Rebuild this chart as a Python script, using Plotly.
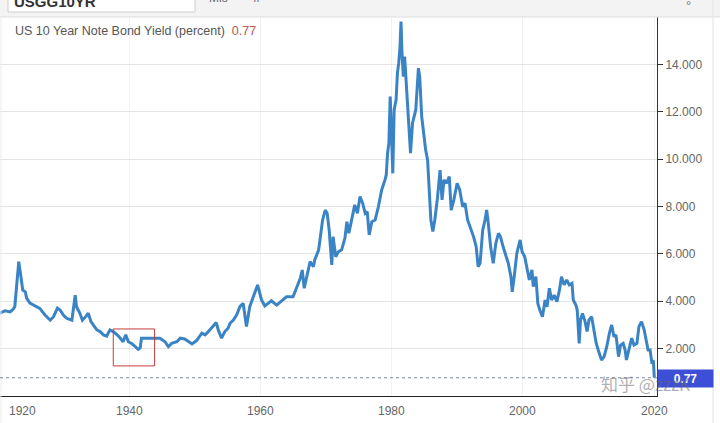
import plotly.graph_objects as go

# ---- data ----
years = [
    1920.35, 1921.1, 1921.9, 1922.3, 1922.6, 1922.9, 1923.2, 1923.5, 1923.8, 1924.2,
    1924.4, 1924.9, 1925.4, 1926.4, 1927.2, 1928.0, 1928.5, 1929.1, 1929.5, 1930.0,
    1930.5, 1931.3, 1931.8, 1932.0, 1932.5, 1932.9, 1933.4, 1933.8, 1934.2, 1934.6,
    1935.1, 1935.6, 1936.1, 1936.6, 1937.1, 1937.6, 1938.4, 1939.1, 1939.5, 1939.9,
    1940.4, 1940.9, 1941.4, 1941.7, 1941.9, 1942.7, 1944.0, 1944.7, 1945.5, 1946.0,
    1946.5, 1947.3, 1947.8, 1948.5, 1949.6, 1950.3, 1951.1, 1951.6, 1952.1, 1952.6,
    1953.3, 1953.6, 1954.1, 1954.6, 1955.1, 1955.4, 1955.9, 1956.4, 1956.9, 1957.4,
    1957.9, 1958.4, 1959.1, 1959.6, 1960.2, 1960.7, 1961.2, 1961.7, 1962.5, 1963.3,
    1964.0, 1965.0, 1965.6, 1966.1, 1966.4, 1966.7, 1967.2, 1967.6, 1968.1, 1968.3,
    1968.9, 1969.1, 1969.5, 1969.9, 1970.2, 1970.5, 1970.9, 1971.1, 1971.5, 1971.9,
    1972.4, 1972.9, 1973.2, 1973.5, 1973.9, 1974.4, 1974.8, 1975.2, 1975.6, 1976.0,
    1976.3, 1976.6, 1977.0, 1977.5, 1978.0, 1978.5, 1979.0, 1979.2, 1979.4, 1979.6,
    1979.8, 1980.0, 1980.2, 1980.4, 1980.7, 1980.9, 1981.1, 1981.3, 1981.45, 1981.6,
    1981.8, 1982.0, 1982.2, 1982.4, 1982.7, 1982.9, 1983.2, 1983.5, 1983.7, 1984.1,
    1984.3, 1984.6, 1984.8, 1985.2, 1985.5, 1985.8, 1986.0, 1986.3, 1986.6, 1987.0,
    1987.4, 1987.7, 1988.0, 1988.4, 1988.8, 1989.1, 1989.5, 1990.0, 1990.4, 1990.85,
    1991.2, 1991.6, 1992.0, 1992.5, 1992.9, 1993.2, 1993.5, 1993.9, 1994.25, 1994.5,
    1994.75, 1995.1, 1995.5, 1995.9, 1996.3, 1996.6, 1997.0, 1997.45, 1997.8, 1998.2,
    1998.4, 1998.7, 1999.1, 1999.6, 1999.9, 2000.3, 2000.7, 2001.0, 2001.4, 2001.6,
    2002.0, 2002.3, 2002.6, 2003.0, 2003.4, 2003.7, 2004.05, 2004.4, 2004.8, 2005.2,
    2005.6, 2005.9, 2006.3, 2006.7, 2007.1, 2007.5, 2007.7, 2008.1, 2008.3, 2008.6,
    2008.8, 2009.1, 2009.5, 2009.8, 2010.1, 2010.5, 2010.75, 2011.2, 2011.5, 2012.0,
    2012.4, 2012.8, 2013.2, 2013.55, 2013.9, 2014.2, 2014.6, 2014.9, 2015.3, 2015.6,
    2015.8, 2016.2, 2016.6, 2016.95, 2017.4, 2017.7, 2018.1, 2018.5, 2018.8, 2019.1,
    2019.4, 2019.65, 2019.9, 2020.05,
]
yields = [
    3.5, 3.6, 3.55, 3.65, 3.77, 4.9, 5.67, 5.1, 4.48, 4.4,
    4.13, 3.92, 3.84, 3.7, 3.42, 3.2, 3.35, 3.71, 3.63, 3.42,
    3.28, 3.2, 4.26, 3.77, 3.5, 3.2, 3.35, 3.5, 3.14, 3.0,
    2.79, 2.72, 2.58, 2.53, 2.79, 2.72, 2.53, 2.29, 2.58, 2.29,
    2.22, 2.1, 1.97, 2.03, 2.44, 2.44, 2.46, 2.44, 2.29, 2.08,
    2.22, 2.29, 2.44, 2.41, 2.2, 2.34, 2.65, 2.58, 2.72, 2.86,
    3.1, 2.79, 2.44, 2.72, 2.86, 3.07, 3.21, 3.42, 3.77, 3.91,
    2.93, 3.77, 4.34, 4.69, 4.05, 3.8, 3.91, 4.02, 3.84, 4.05,
    4.19, 4.19, 4.62, 4.97, 5.32, 4.55, 5.18, 5.67, 5.46, 5.74,
    6.17, 6.66, 7.43, 7.85, 7.71, 7.01, 5.53, 6.73, 5.88, 6.09,
    6.17, 6.66, 7.36, 6.87, 7.43, 8.07, 7.71, 8.42, 8.14, 7.71,
    7.78, 6.8, 7.36, 7.43, 7.99, 8.7, 9.12, 9.33, 10.25, 10.67,
    12.64, 11.37, 9.4, 12.08, 12.5, 13.63, 14.05, 14.75, 15.81, 14.47,
    13.48, 14.33, 13.48, 12.36, 11.23, 10.25, 11.52, 11.8, 12.08, 13.84,
    13.48, 11.8, 11.23, 10.39, 9.97, 8.7, 7.43, 6.94, 7.43, 8.35,
    9.54, 8.28, 9.12, 8.98, 9.26, 7.85, 8.28, 8.98, 8.7, 7.99,
    8.14, 7.43, 7.15, 6.73, 6.31, 5.46, 5.6, 7.01, 7.43, 7.85,
    7.29, 6.31, 5.6, 6.45, 6.87, 6.73, 6.31, 5.88, 5.6, 5.04,
    4.4, 5.04, 6.03, 6.59, 6.09, 5.88, 5.32, 4.9, 5.32, 4.62,
    5.04, 3.91, 3.63, 3.35, 4.05, 3.77, 4.55, 4.05, 4.26, 3.98,
    4.48, 5.04, 4.69, 4.9, 4.69, 4.76, 4.05, 3.84, 3.63, 2.22,
    3.21, 3.49, 3.14, 2.72, 3.21, 3.35, 2.93, 2.22, 1.94, 1.52,
    1.66, 2.08, 2.65, 3.0, 2.5, 2.58, 1.66, 2.15, 2.22, 1.94,
    1.52, 1.94, 2.44, 2.15, 2.22, 2.93, 3.14, 2.79, 2.36, 1.94,
    1.94, 1.45, 1.5, 0.77,
]
x_tick_years = [1920, 1940, 1960, 1980, 2000, 2020]
y_tick_values = [2, 4, 6, 8, 10, 12, 14]
title_text = "US 10 Year Note Bond Yield (percent)"
symbol_text = "USGG10YR"
highlight_years = [1937.6, 1943.9]
highlight_yields = [1.27, 2.83]
watermark = "知乎 @zzzK"

# ---- layout geometry ----
W, H = 720, 423
ML, MR, MT, MB = 0, 63, 17, 27
PW, PH = W - ML - MR, H - MT - MB
X_RANGE = [1920.343, 2020.457]
Y_RANGE = [0, 16]
FONT = "Liberation Sans, Arial, sans-serif"
last = yields[-1]


def px(xp):
    return (xp - ML) / PW


def py(yp):
    return 1 - (yp - MT) / PH


fig = go.Figure()
fig.add_trace(go.Scatter(
    x=years, y=yields, mode="lines",
    line=dict(color="#3a84c6", width=3),
    hoverinfo="skip",
))

shapes = [
    # header bar
    dict(type="rect", xref="paper", yref="paper", x0=px(0), x1=px(W), y0=py(17), y1=py(0),
         fillcolor="#f3f3f3", line=dict(width=0), layer="below"),
    dict(type="line", xref="paper", yref="paper", x0=px(0), x1=px(W), y0=py(17), y1=py(17),
         line=dict(color="#dddddd", width=1)),
    dict(type="rect", xref="paper", yref="paper", x0=px(8), x1=px(195), y0=py(12), y1=py(-3),
         fillcolor="white", line=dict(color="#cccccc", width=1)),
    # right / left frame lines
    dict(type="line", xref="paper", yref="paper", x0=px(713), x1=px(713), y0=py(H), y1=py(0),
         line=dict(color="#e2e2e2", width=1)),
    dict(type="line", xref="paper", yref="paper", x0=px(1), x1=px(1), y0=py(H), y1=py(17),
         line=dict(color="#ececec", width=1)),
    # last value dotted line
    dict(type="line", xref="paper", yref="y", x0=0, x1=1, y0=last, y1=last,
         line=dict(color="#7a88a8", width=1, dash="dot")),
    # red highlight box
    dict(type="rect", xref="x", yref="y", x0=highlight_years[0], x1=highlight_years[1],
         y0=highlight_yields[0], y1=highlight_yields[1],
         line=dict(color="#c43c3c", width=1), fillcolor="rgba(0,0,0,0)"),
]

annotations = [
    dict(xref="paper", yref="paper", x=px(12), y=py(1), xanchor="left", yanchor="middle",
         text="<b>" + symbol_text + "</b>", showarrow=False,
         font=dict(family=FONT, size=15, color="#333333")),
    dict(xref="paper", yref="paper", x=px(207), y=py(-2), xanchor="left", yanchor="middle",
         text="Mis", showarrow=False, font=dict(family=FONT, size=12, color="#666666")),
    dict(xref="paper", yref="paper", x=px(252), y=py(-2), xanchor="left", yanchor="middle",
         text="//", showarrow=False, font=dict(family=FONT, size=12, color="#666666")),
    dict(xref="paper", yref="paper", x=px(688), y=py(5), xanchor="center", yanchor="middle",
         text="°", showarrow=False, font=dict(family=FONT, size=13, color="#777777")),
    dict(xref="paper", yref="paper", x=px(13), y=py(31), xanchor="left", yanchor="middle",
         text=f"{title_text}  <span style='color:#b85450'>{last:.2f}</span>", showarrow=False,
         font=dict(family=FONT, size=12.5, color="#555555")),
    dict(xref="paper", yref="y", x=1, y=last, xanchor="left", yanchor="middle", yshift=-1,
         text=f"<b>{last:.2f}</b>", showarrow=False, bgcolor="#3d4fd6", width=55, height=17,
         borderpad=0, font=dict(family=FONT, size=12, color="white")),
    dict(xref="paper", yref="paper", x=px(645), y=py(383), xanchor="center", yanchor="middle",
         text=watermark, showarrow=False,
         font=dict(family="Noto Sans CJK SC", size=17, color="rgba(105,105,105,0.55)")),
]

for yr in x_tick_years:
    if yr < X_RANGE[0]:
        annotations.append(dict(xref="paper", yref="paper", x=0, y=0, xanchor="left",
                                yanchor="middle", xshift=7, yshift=-15, text=str(yr),
                                showarrow=False, font=dict(family=FONT, size=12, color="#666666")))
    else:
        annotations.append(dict(xref="x", yref="paper", x=yr, y=0, xanchor="center",
                                yanchor="middle", yshift=-15, text=str(yr), showarrow=False,
                                font=dict(family=FONT, size=12, color="#666666")))

fig.update_layout(
    width=W, height=H,
    margin=dict(l=ML, r=MR, t=MT, b=MB, pad=0),
    paper_bgcolor="white", plot_bgcolor="white",
    showlegend=False,
    xaxis=dict(range=X_RANGE, showgrid=True, gridcolor="#f1f1f1", gridwidth=1,
               tickvals=[y for y in x_tick_years if y >= X_RANGE[0]],
               showticklabels=False, ticks="", zeroline=False,
               showline=True, linecolor="#222222", linewidth=1),
    yaxis=dict(range=Y_RANGE, side="right", tickvals=y_tick_values, tickformat=".3f",
               showgrid=True, gridcolor="#e4e4e4", gridwidth=1, zeroline=False,
               showline=True, linecolor="#333333", linewidth=1,
               ticks="outside", ticklen=5, tickcolor="#333333",
               tickfont=dict(family=FONT, size=12, color="#666666")),
    shapes=shapes,
    annotations=annotations,
)

fig.write_html("out.html")
